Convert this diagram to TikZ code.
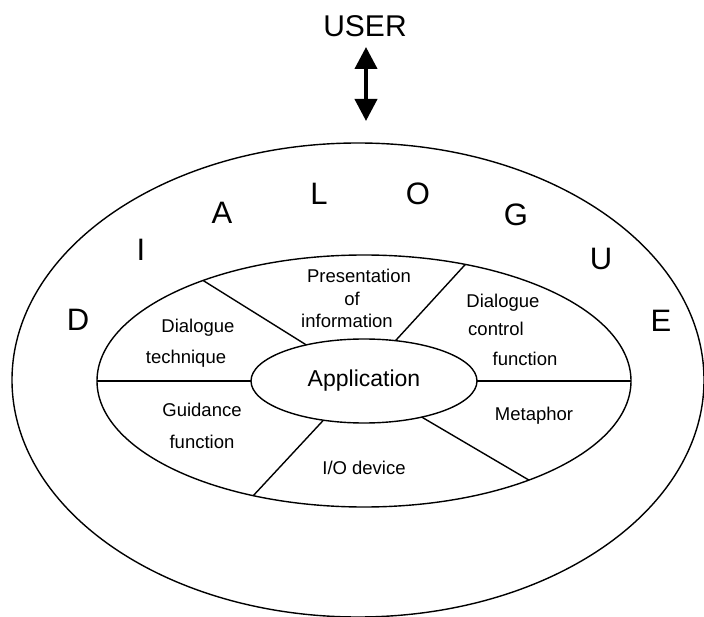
\documentclass[tikz,border=0pt]{standalone}
\usepackage{fontspec}
\setmainfont{Liberation Sans}
\usetikzlibrary{shapes.geometric,arrows.meta}
\begin{document}
\begin{tikzpicture}[x=1pt,y=-1pt,
  ring/.style={draw,ellipse,line width=1.4pt,inner sep=0pt,outer sep=0pt},
  lbl/.style={font=\fontsize{18.5}{22}\selectfont,inner sep=0pt},
  big/.style={font=\fontsize{31}{36}\selectfont,inner sep=0pt},
  divider/.style={line width=1.4pt},
  tip/.style={Triangle[length=22pt,width=22pt]}]
\useasboundingbox (0,0) rectangle (704,617);
% ellipses
\node[ring,minimum width=692pt,minimum height=474pt] (outer) at (358,380) {};
\node[ring,minimum width=534pt,minimum height=252pt] (inner) at (364,381) {};
\node[ring,minimum width=226pt,minimum height=84pt,font=\fontsize{23}{27}\selectfont] (app) at (364,381) {Application};
% dividers
\draw[divider] (app.180) -- (inner.180);
\draw[divider] (app.0) -- (inner.0);
\draw[divider] (app.148.5) -- (inner.148.8);
\draw[divider] (app.52.7) -- (inner.49.6);
\draw[divider] (app.224.3) -- (inner.226.5);
\draw[divider] (app.328.8) -- (inner.329.2);
% user and arrow
\node[font=\fontsize{30}{34}\selectfont,inner sep=0pt] (user) at (365,26) {USER};
\coordinate (atop) at (366,47);
\coordinate (abot) at (366,121);
\draw[line width=4pt,{Triangle[length=22pt,width=22pt]}-{Triangle[length=22pt,width=22pt]}] (atop) -- (abot);
% DIALOGUE letters
\node[big] (lD) at (78,320) {D};
\node[big] (lI) at (141,250) {I};
\node[big] (lA) at (222,213) {A};
\node[big] (lL) at (319,194) {L};
\node[big] (lO) at (418,194) {O};
\node[big] (lG) at (516,215) {G};
\node[big] (lU) at (601,259) {U};
\node[big] (lE) at (661,321) {E};
% segment labels
\node[lbl] (pres1) at (359,276) {Presentation};
\node[lbl] (pres2) at (352,299) {of};
\node[lbl] (pres3) at (347,321) {information};
\node[lbl] (dt1) at (198,328) {Dialogue};
\node[lbl] (dt2) at (186,359) {technique};
\node[lbl] (gf1) at (202,410) {Guidance};
\node[lbl] (gf2) at (202,442) {function};
\node[lbl] (io) at (364,468) {I/O device};
\node[lbl] (dc1) at (503,303) {Dialogue};
\node[lbl] (dc2) at (496,329) {control};
\node[lbl] (dc3) at (525,359) {function};
\node[lbl] (met) at (534,416) {Metaphor};
\end{tikzpicture}
\end{document}
